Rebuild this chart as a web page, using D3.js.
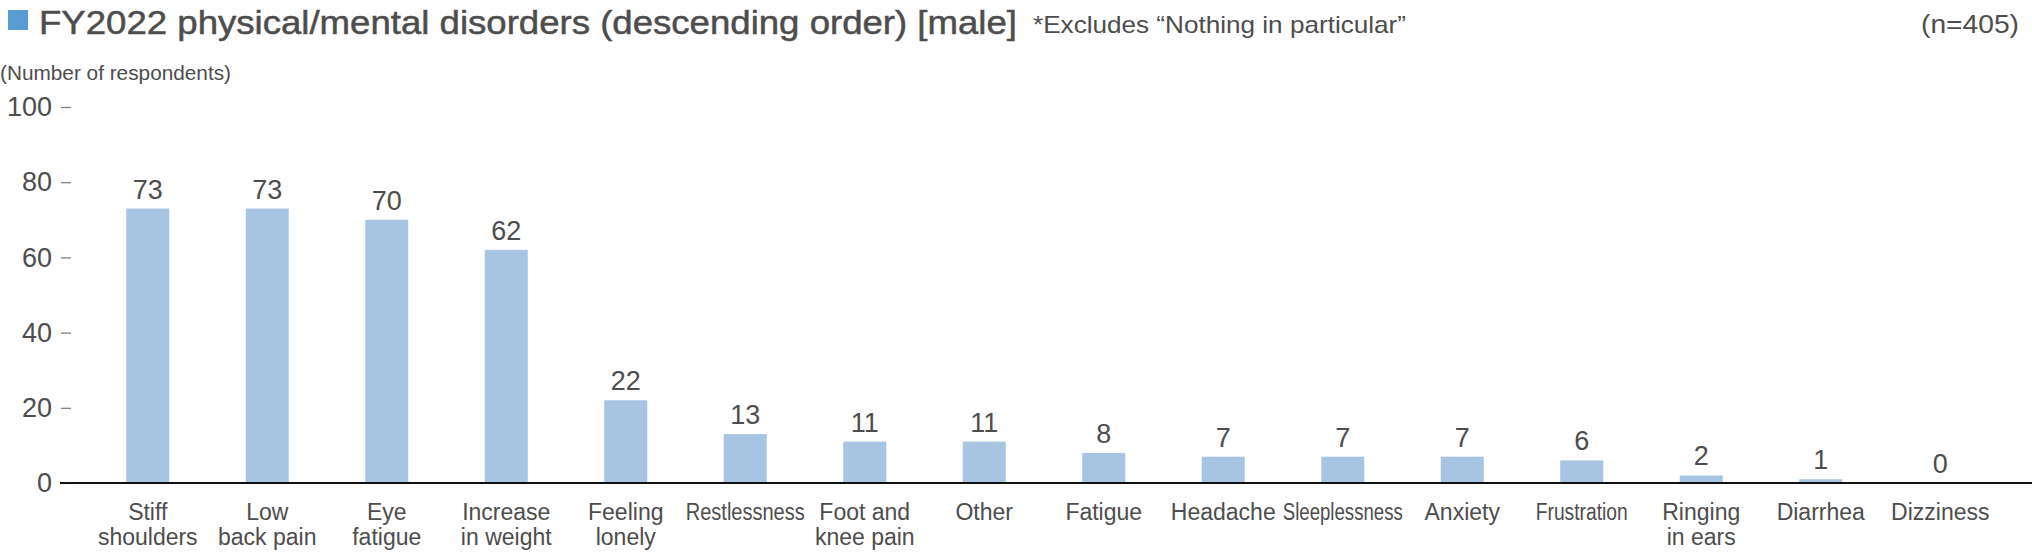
<!DOCTYPE html>
<html>
<head>
<meta charset="utf-8">
<script src="https://cdn.jsdelivr.net/npm/d3@7"></script>
<style>
  body { margin: 0; background: #fff; }
  text { font-family: "Liberation Sans", Arial, sans-serif; fill: #4d4d4d; }
</style>
</head>
<body>
<div id="chart"></div>
<script>
// chart data
var categories = [
  ["Stiff", "shoulders"], ["Low", "back pain"], ["Eye", "fatigue"], ["Increase", "in weight"],
  ["Feeling", "lonely"], ["Restlessness"], ["Foot and", "knee pain"], ["Other"],
  ["Fatigue"], ["Headache"], ["Sleeplessness"], ["Anxiety"],
  ["Frustration"], ["Ringing", "in ears"], ["Diarrhea"], ["Dizziness"]
];
var values = [73, 73, 70, 62, 22, 13, 11, 11, 8, 7, 7, 7, 6, 2, 1, 0];
var yTicks = [0, 20, 40, 60, 80, 100];
// labels squeezed in the original
var squeezed = { "Restlessness": 119, "Sleeplessness": 120, "Frustration": 92 };

var width = 2032, height = 552;

var svg = d3.select("#chart").append("svg")
    .attr("width", width)
    .attr("height", height);

// header
svg.append("rect")
    .attr("x", 8).attr("y", 10)
    .attr("width", 20).attr("height", 20)
    .attr("fill", "#5b9bd3");

svg.append("text")
    .attr("x", 39).attr("y", 34)
    .attr("font-size", 34)
    .attr("textLength", 978)
    .attr("lengthAdjust", "spacingAndGlyphs")
    .style("stroke", "#4d4d4d")
    .style("stroke-width", 0.5)
    .text("FY2022 physical/mental disorders (descending order) [male]");

svg.append("text")
    .attr("x", 1033).attr("y", 33)
    .attr("font-size", 24)
    .attr("textLength", 373)
    .attr("lengthAdjust", "spacingAndGlyphs")
    .text("*Excludes \u201cNothing in particular\u201d");

svg.append("text")
    .attr("x", 2019).attr("y", 33)
    .attr("text-anchor", "end")
    .attr("font-size", 26)
    .attr("textLength", 98)
    .attr("lengthAdjust", "spacingAndGlyphs")
    .text("(n=405)");

svg.append("text")
    .attr("x", 0).attr("y", 80)
    .attr("font-size", 20)
    .attr("textLength", 231)
    .attr("lengthAdjust", "spacingAndGlyphs")
    .text("(Number of respondents)");

// scales
var x = d3.scaleBand()
    .domain(d3.range(categories.length))
    .range([88, 2000])
    .paddingInner(0.64)
    .paddingOuter(0.32);

var y = d3.scaleLinear()
    .domain([0, 100])
    .range([483, 107]);

// y axis
var yAxis = svg.append("g")
    .attr("transform", "translate(71,0)")
    .call(d3.axisLeft(y).tickValues(yTicks).tickSize(10).tickPadding(9));
yAxis.select(".domain").remove();
yAxis.selectAll(".tick line").attr("stroke", "#777").attr("stroke-width", 1.2);
yAxis.selectAll(".tick text")
    .attr("font-size", 27)
    .attr("font-family", "\"Liberation Sans\", Arial, sans-serif")
    .attr("fill", "#4d4d4d");

// bars
svg.append("g").selectAll("rect")
    .data(values)
    .enter()
    .append("rect")
    .attr("x", function (d, i) { return x(i); })
    .attr("y", function (d) { return y(d); })
    .attr("width", x.bandwidth())
    .attr("height", function (d) { return y(0) - y(d); })
    .attr("fill", "#a7c4e3");

// value labels
svg.append("g").selectAll("text")
    .data(values)
    .enter()
    .append("text")
    .attr("x", function (d, i) { return x(i) + x.bandwidth() / 2; })
    .attr("y", function (d) { return y(d) - 10; })
    .attr("text-anchor", "middle")
    .attr("font-size", 27)
    .text(function (d) { return d; });

// baseline
svg.append("line")
    .attr("x1", 60).attr("x2", 2032)
    .attr("y1", y(0)).attr("y2", y(0))
    .attr("stroke", "#111")
    .attr("stroke-width", 2);

// category labels
var lab = svg.append("g").selectAll("text")
    .data(categories)
    .enter()
    .append("text")
    .attr("text-anchor", "middle")
    .attr("font-size", 23)
    .attr("transform", function (d, i) {
        return "translate(" + (x(i) + x.bandwidth() / 2) + ",520)";
    });

lab.selectAll("tspan")
    .data(function (d) { return d; })
    .enter()
    .append("tspan")
    .attr("x", 0)
    .attr("y", function (d, j) { return j * 25; })
    .each(function (d) {
        if (squeezed[d]) {
            d3.select(this)
                .attr("textLength", squeezed[d])
                .attr("lengthAdjust", "spacingAndGlyphs");
        }
    })
    .text(function (d) { return d; });
</script>
</body>
</html>
